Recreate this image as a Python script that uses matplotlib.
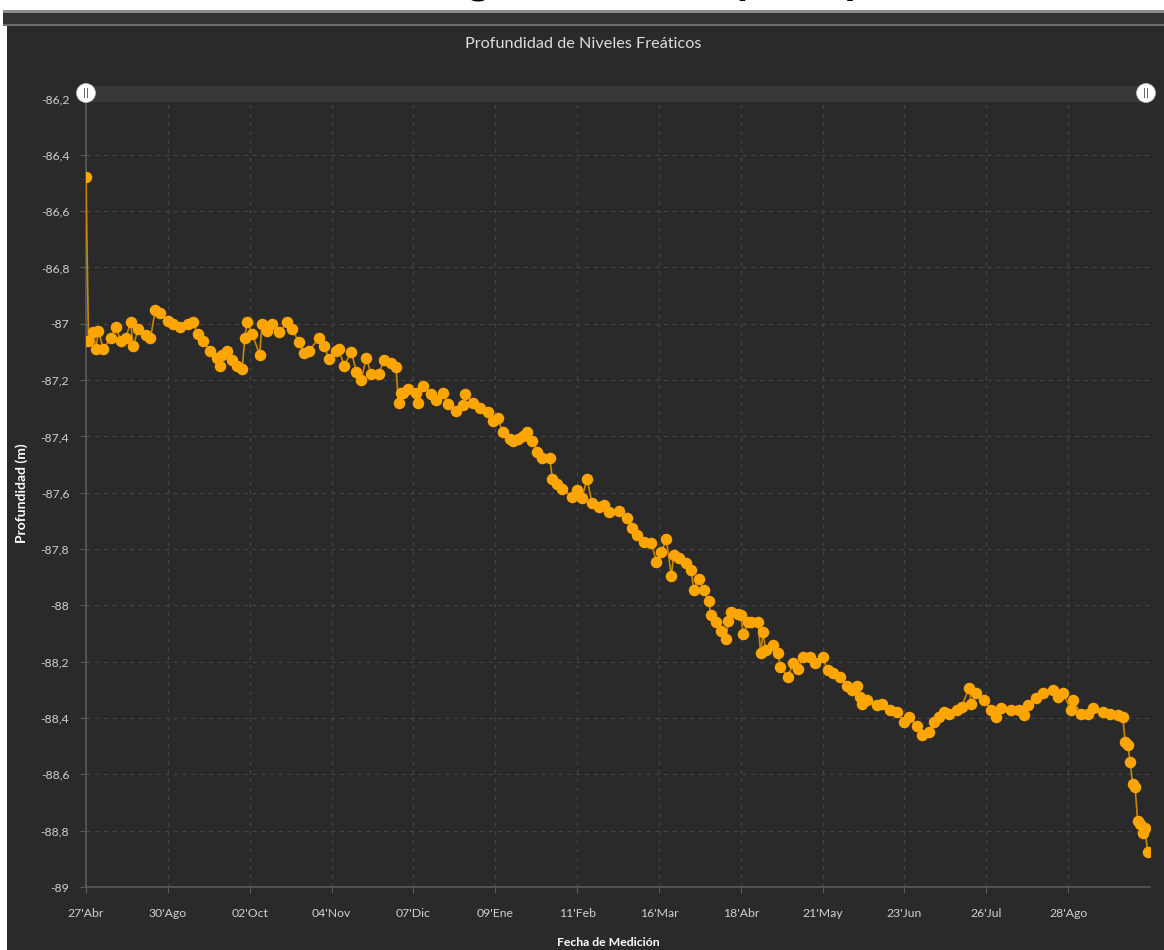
import matplotlib
matplotlib.use("Agg")
import matplotlib.pyplot as plt
from matplotlib.patches import Rectangle, Ellipse

plt.rcParams['font.family'] = ['Lato', 'DejaVu Sans']

# days counted from the first reading (27 Apr) and measured depth (m)
dias = [0, 1, 3, 4, 5, 7, 10, 12, 14, 16, 18, 19, 21, 24, 26, 28, 30, 33, 35, 38,
        41, 43, 45, 47, 50, 53, 54, 55, 57, 59, 61, 63, 64, 65, 67, 70, 71, 73, 75, 78,
        81, 83, 86, 88, 90, 94, 96, 98, 101, 102, 104, 107, 109, 111, 113, 115, 118, 120, 123, 125,
        126, 127, 128, 130, 133, 134, 136, 139, 141, 144, 146, 149, 152, 153, 156, 159, 162, 164, 166, 168,
        171, 172, 174, 176, 178, 180, 182, 184, 187, 188, 190, 192, 196, 198, 200, 202, 204, 207, 209, 211,
        215, 218, 220, 222, 225, 228, 230, 232, 234, 236, 237, 239, 242, 244, 245, 247, 249, 251, 252, 254,
        256, 258, 259, 260, 263, 264, 265, 267, 268, 271, 272, 273, 274, 277, 279, 280, 283, 285, 287, 289,
        292, 294, 297, 299, 301, 304, 307, 309, 311, 312, 313, 315, 319, 321, 324, 327, 330, 332, 335, 337,
        340, 342, 344, 346, 348, 351, 353, 356, 357, 359, 362, 365, 367, 369, 373, 376, 378, 380, 383, 386,
        390, 392, 394, 397, 398, 401, 404, 406, 410, 413, 416, 418, 419, 420, 421, 422, 423, 424, 425, 426,
        427, 428]
profundidad = [-86.48, -87.06, -87.03, -87.09, -87.025, -87.09, -87.05, -87.01, -87.06, -87.05,
               -86.995, -87.08, -87.02, -87.04, -87.05, -86.95, -86.96, -86.99, -87.0, -87.01,
               -87.0, -86.995, -87.035, -87.06, -87.095, -87.12, -87.15, -87.11, -87.095, -87.13,
               -87.15, -87.16, -87.05, -86.995, -87.035, -87.11, -87.0, -87.025, -87.0, -87.03,
               -86.995, -87.02, -87.065, -87.105, -87.095, -87.05, -87.08, -87.125, -87.095, -87.09,
               -87.15, -87.10, -87.17, -87.20, -87.12, -87.18, -87.18, -87.13, -87.14, -87.155,
               -87.28, -87.245, -87.245, -87.23, -87.245, -87.28, -87.22, -87.25, -87.27, -87.245,
               -87.285, -87.31, -87.29, -87.25, -87.28, -87.30, -87.315, -87.345, -87.335, -87.385,
               -87.41, -87.415, -87.41, -87.40, -87.385, -87.415, -87.455, -87.475, -87.475, -87.55,
               -87.57, -87.585, -87.615, -87.59, -87.62, -87.55, -87.635, -87.65, -87.645, -87.67,
               -87.665, -87.69, -87.725, -87.75, -87.775, -87.78, -87.845, -87.81, -87.765, -87.895,
               -87.82, -87.83, -87.85, -87.875, -87.945, -87.905, -87.945, -87.985, -88.035, -88.06,
               -88.09, -88.12, -88.055, -88.025, -88.03, -88.035, -88.10, -88.06, -88.06, -88.06,
               -88.17, -88.095, -88.16, -88.14, -88.17, -88.22, -88.255, -88.205, -88.225, -88.185,
               -88.185, -88.205, -88.185, -88.23, -88.24, -88.255, -88.285, -88.30, -88.285, -88.325,
               -88.35, -88.335, -88.355, -88.35, -88.37, -88.38, -88.415, -88.395, -88.43, -88.46,
               -88.45, -88.415, -88.395, -88.38, -88.385, -88.37, -88.36, -88.295, -88.35, -88.31,
               -88.335, -88.37, -88.395, -88.365, -88.37, -88.37, -88.39, -88.355, -88.33, -88.31,
               -88.30, -88.325, -88.31, -88.37, -88.335, -88.385, -88.385, -88.365, -88.38, -88.385,
               -88.39, -88.395, -88.485, -88.495, -88.555, -88.635, -88.645, -88.765, -88.775, -88.81,
               -88.79, -88.875]

x_ticks = [0, 33, 66, 99, 132, 165, 198, 231, 264, 297, 330, 363, 396]
x_labels = ["27'Abr", "30'Ago", "02'Oct", "04'Nov", "07'Dic", "09'Ene", "11'Feb",
            "16'Mar", "18'Abr", "21'May", "23'Jun", "26'Jul", "28'Ago"]
y_ticks = [-89, -88.8, -88.6, -88.4, -88.2, -88, -87.8, -87.6, -87.4, -87.2, -87,
           -86.8, -86.6, -86.4, -86.2]
y_labels = ['-89', '-88,8', '-88,6', '-88,4', '-88,2', '-88', '-87,8', '-87,6', '-87,4',
            '-87,2', '-87', '-86,8', '-86,6', '-86,4', '-86,2']

W, H = 1164, 950
fondo = '#2a2a2a'
texto = '#cfcfcf'

fig = plt.figure(figsize=(W / 100, H / 100), dpi=100, facecolor='white')

# panel oscuro y franja superior
fig.patches.append(Rectangle((7 / W, 0), 1 - 7 / W, 1 - 25 / H, transform=fig.transFigure,
                             facecolor=fondo, edgecolor='none', zorder=-2))
fig.patches.append(Rectangle((3 / W, 1 - 24 / H), 1, 14 / H, transform=fig.transFigure,
                             facecolor='#333333', edgecolor='none', zorder=-2))
fig.patches.append(Rectangle((3 / W, 1 - 13 / H), 1, 3 / H, transform=fig.transFigure,
                             facecolor='#8c8c8c', edgecolor='none', zorder=-2))
fig.patches.append(Rectangle((3 / W, 1 - 25.5 / H), 1, 2 / H, transform=fig.transFigure,
                             facecolor='#6e6e6e', edgecolor='none', zorder=-2))

# titulo del documento (cortado por el borde)
fig.text(215 / W, 1 + 7 / H, 'Gráfico 3. Seguimiento de pozo piezométrico', ha='left',
         va='baseline', fontsize=32, fontweight='bold', color='black', zorder=-1)

ax = fig.add_axes([86 / W, 1 - 887 / H, (1150 - 86) / W, (887 - 98.5) / H])
ax.set_zorder(1)
ax.set_facecolor(fondo)
ax.plot(dias, profundidad, color='#c8870a', lw=1.2, marker='o', ms=8.3,
        mfc='#ffa500', mec='#ffa500', mew=0, zorder=3)

ax.set_xlim(0, 429)
ax.set_ylim(-89, -86.2)
ax.set_xticks(x_ticks)
ax.set_xticklabels(x_labels)
ax.set_yticks(y_ticks)
ax.set_yticklabels(y_labels)
ax.tick_params(axis='both', colors='#5a5a5a', labelcolor=texto, labelsize=8.8, length=4)
ax.tick_params(axis='x', pad=11)
ax.tick_params(axis='y', pad=8)
ax.grid(True, color='#454545', linestyle=(0, (3, 4)), linewidth=0.9)
for s in ['top', 'right']:
    ax.spines[s].set_visible(False)
for s in ['left', 'bottom']:
    ax.spines[s].set_color('#5a5a5a')
    ax.spines[s].set_linewidth(1.2)

# barra de zoom con sus manijas
fig.patches.append(Rectangle((86 / W, 1 - 102 / H), (1146 - 86) / W, 16 / H,
                             transform=fig.transFigure, facecolor='#373737',
                             edgecolor='none', zorder=4))
for xm in [86, 1146]:
    fig.patches.append(Ellipse((xm / W, 1 - 93 / H), 19 / W, 19 / H, transform=fig.transFigure,
                               facecolor='white', edgecolor='#bbbbbb', lw=0.5, zorder=5))
    for dx in [-1.7, 1.7]:
        fig.patches.append(Rectangle(((xm + dx - 0.6) / W, 1 - 98 / H), 1.2 / W, 10 / H,
                                     transform=fig.transFigure, facecolor='#666666',
                                     edgecolor='none', zorder=6))

fig.text(583 / W, 1 - 44 / H, 'Profundidad de Niveles Freáticos', ha='center', va='center',
         fontsize=11.7, color='#dddddd')
fig.text(22 / W, 1 - 493 / H, 'Profundidad (m)', ha='center', va='center', rotation=90,
         fontsize=10, fontweight='bold', color='white')
fig.text(608 / W, 1 - 943 / H, 'Fecha de Medición', ha='center', va='center',
         fontsize=8.8, fontweight='bold', color='white')

fig.savefig('out.png', dpi=100, facecolor=fig.get_facecolor())
